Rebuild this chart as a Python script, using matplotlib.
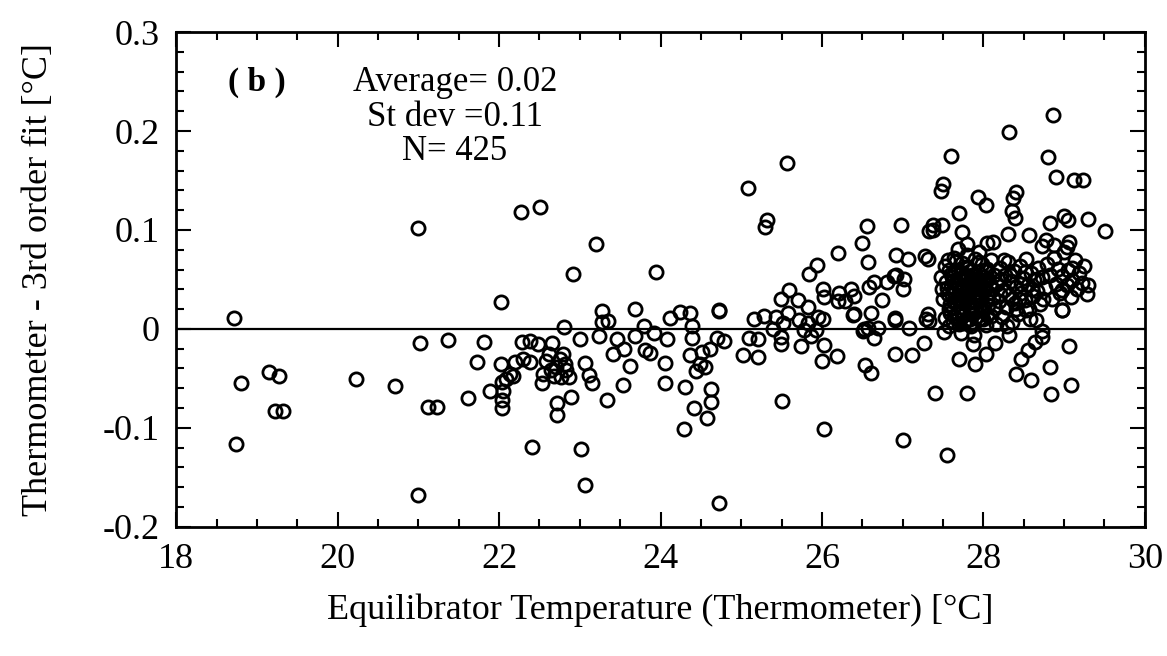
import numpy as np
import matplotlib
matplotlib.use("Agg")
import matplotlib.pyplot as plt
from matplotlib.ticker import MultipleLocator, FuncFormatter

plt.rcParams.update({
    "font.family": "Liberation Serif",
    "font.size": 26,
    "axes.unicode_minus": False,
})

# === Datos (temperatura, residuo) ===
left_t = [18.72, 18.80, 18.74, 19.15, 19.27, 19.22, 19.32, 20.23, 20.71, 21.02,
          21.00, 21.12, 21.23, 21.00, 21.37, 21.61, 21.73, 21.81, 21.89]
left_r = [0.011, -0.055, -0.116, -0.044, -0.048, -0.083, -0.083, -0.051, -0.058, -0.014,
          0.102, -0.079, -0.079, -0.168, -0.011, -0.070, -0.033, -0.013, -0.063]

mid_t = [22.02, 22.02, 22.41, 22.27, 22.51, 22.04, 22.04, 22.03, 22.08, 22.14,
         22.20, 22.30, 22.28, 22.38, 22.48, 22.38, 22.55, 22.53, 22.58, 22.66,
         22.70, 22.79, 22.80, 22.83, 22.86, 22.77, 22.64, 22.72, 22.72, 22.89,
         23.00, 23.06, 23.12, 23.24, 23.28, 23.27, 23.35, 23.34, 23.46, 23.41,
         23.55, 23.62, 23.54, 23.69, 23.68, 23.79, 23.81, 23.87, 23.92, 24.08,
         24.05, 24.05, 24.12, 24.24, 24.37, 24.39, 24.39, 24.36, 24.52, 24.49,
         24.44, 24.30, 24.42, 24.58, 24.29, 24.63, 24.63, 22.91, 23.95, 23.20,
         23.01, 23.07, 24.73, 24.61, 24.70, 24.79, 24.55, 24.73, 24.73, 22.62,
         22.68, 22.75, 22.82, 22.05, 22.17, 23.15]
mid_r = [-0.035, 0.027, -0.119, 0.118, 0.123, -0.080, -0.072, -0.054, -0.051, -0.046,
         -0.033, -0.030, -0.013, -0.012, -0.015, -0.033, -0.046, -0.055, -0.032, -0.014,
         -0.039, -0.025, 0.002, -0.042, -0.049, -0.049, -0.042, -0.075, -0.087, -0.069,
         -0.010, -0.034, -0.047, -0.007, 0.018, 0.007, 0.008, -0.072, -0.010, -0.025,
         -0.020, -0.037, -0.057, 0.020, -0.007, 0.003, -0.021, -0.024, -0.004, -0.010,
         -0.034, -0.055, 0.011, 0.017, 0.016, 0.003, -0.009, -0.026, -0.023, -0.035,
         -0.043, -0.059, -0.080, -0.090, -0.101, -0.061, -0.074, 0.056, 0.058, 0.086,
         -0.121, -0.158, -0.176, -0.020, -0.009, -0.012, -0.038, 0.019, 0.018, -0.025,
         -0.048, -0.030, -0.035, -0.063, -0.048, -0.055]

mid2_t = [25.29, 25.32, 25.08, 25.57, 26.56, 26.98, 26.50, 26.20, 26.57, 26.92,
          27.07, 25.94, 25.84, 26.92, 27.02, 27.00, 26.65, 26.80, 26.58, 26.01,
          26.03, 26.21, 26.36, 26.40, 26.28, 26.20, 26.75, 25.59, 25.49, 25.70,
          25.83, 25.43, 25.58, 25.52, 25.71, 25.83, 25.95, 26.01, 26.39, 26.61,
          26.90, 25.28, 25.16, 25.10, 25.21, 25.39, 25.49, 25.49, 25.78, 25.74,
          25.87, 25.93, 26.03, 26.57, 26.70, 26.51, 26.64, 27.08, 25.02, 25.21,
          26.00, 26.19, 26.91, 27.12, 26.53, 26.61, 25.50, 26.03, 27.01, 26.89,
          26.40, 26.52, 26.90]
mid2_r = [0.103, 0.110, 0.142, 0.168, 0.104, 0.105, 0.087, 0.077, 0.068, 0.075,
          0.071, 0.065, 0.056, 0.055, 0.050, 0.040, 0.047, 0.047, 0.042, 0.040,
          0.032, 0.036, 0.040, 0.033, 0.028, 0.028, 0.029, 0.039, 0.030, 0.029,
          0.022, 0.012, 0.016, 0.006, 0.009, 0.006, 0.012, 0.010, 0.014, 0.016,
          0.011, 0.013, 0.010, -0.009, -0.010, 0.000, -0.008, -0.015, -0.001, -0.017,
          -0.007, -0.001, -0.016, 0.001, 0.001, -0.002, -0.009, 0.001, -0.026, -0.028,
          -0.032, -0.027, -0.025, -0.026, -0.036, -0.045, -0.073, -0.101, -0.112, 0.053,
          0.015, 0.000, 0.009]

right_t = [27.33, 27.31, 27.29, 27.27, 28.86, 28.32, 27.60, 28.80, 28.90, 29.12,
           29.24, 27.50, 27.47, 27.93, 28.03, 28.40, 28.37, 28.35, 28.39, 27.70,
           27.38, 27.49, 27.37, 27.73, 28.30, 28.57, 28.82, 29.00, 29.05, 29.30,
           29.51, 28.78, 28.72, 29.04, 28.05, 28.12, 27.80, 27.69, 27.28, 27.40,
           27.80, 27.55, 27.70, 27.90, 28.03, 28.14, 28.16, 28.32, 28.40, 28.59,
           28.47, 28.55, 28.64, 28.72, 28.65, 28.53, 28.82, 28.84, 29.06, 29.09,
           28.97, 28.98, 29.30, 29.10, 28.98, 27.87, 28.73, 27.31, 27.33]
right_r = [0.099, 0.071, 0.010, -0.014, 0.216, 0.199, 0.175, 0.174, 0.154, 0.151,
           0.151, 0.146, 0.139, 0.133, 0.125, 0.138, 0.132, 0.119, 0.112, 0.117,
           0.105, 0.105, 0.100, 0.098, 0.096, 0.095, 0.107, 0.114, 0.110, 0.111,
           0.099, 0.090, 0.084, 0.083, 0.087, 0.088, 0.086, 0.081, 0.074, -0.065,
           -0.065, -0.127, -0.030, -0.035, -0.025, -0.014, 0.005, -0.006, -0.046, -0.052,
           -0.030, -0.021, -0.013, -0.008, 0.009, 0.019, -0.038, -0.066, -0.017, -0.057,
           0.019, 0.019, 0.044, 0.062, 0.039, -0.015, -0.002, 0.015, 0.008]

# nube densa 27.4 - 29.3 °C
dense_t = [27.48, 27.50, 27.52, 27.53, 27.55, 27.57, 27.58, 27.60, 27.61, 27.63,
           27.64, 27.66, 27.67, 27.69, 27.70, 27.71, 27.73, 27.74, 27.76, 27.77,
           27.78, 27.80, 27.81, 27.82, 27.84, 27.85, 27.86, 27.87, 27.89, 27.90,
           27.91, 27.93, 27.94, 27.95, 27.97, 27.98, 27.99, 28.01, 28.02, 28.03,
           28.05, 28.06, 28.08, 28.09, 28.10, 28.12, 28.13, 28.15, 27.62, 27.68,
           27.75, 27.79, 27.83, 27.88, 27.92, 27.96, 28.00, 28.04, 28.07, 27.72,
           27.65, 27.59, 27.54, 27.56, 27.80, 27.95, 27.72, 27.88, 28.00, 27.51,
           27.49, 27.57, 27.62, 27.66, 27.70, 27.74, 27.78, 27.83, 27.86, 27.90,
           27.94, 27.97, 28.02, 28.06, 28.11, 27.60, 27.68, 27.76, 27.84, 27.92,
           28.17, 28.19, 28.21, 28.23, 28.25, 28.27, 28.28, 28.30, 28.32, 28.34,
           28.36, 28.38, 28.39, 28.41, 28.43, 28.45, 28.47, 28.49, 28.51, 28.53,
           28.55, 28.57, 28.59, 28.61, 28.63, 28.66, 28.68, 28.70, 28.73, 28.76,
           28.79, 28.22, 28.29, 28.44, 28.58, 28.20, 28.26, 28.33, 28.40, 28.46,
           28.52, 28.60, 28.67, 28.74, 28.35,
           28.82, 28.85, 28.87, 28.90, 28.92, 28.95, 28.98, 29.00, 29.03, 29.05,
           29.08, 29.10, 29.13, 29.16, 29.19, 29.22, 29.25, 29.28, 28.88, 29.06]
dense_r = [0.052, 0.030, 0.011, 0.064, 0.041, 0.020, 0.003, 0.056, 0.034, 0.072,
           0.013, 0.046, 0.025, 0.060, 0.005, 0.038, 0.018, 0.067, 0.050, 0.029,
           0.009, 0.044, 0.062, 0.022, 0.036, 0.003, 0.055, 0.015, 0.071, 0.041,
           0.027, 0.058, 0.010, 0.047, 0.033, 0.066, 0.019, 0.052, 0.039, 0.004,
           0.061, 0.024, 0.045, 0.013, 0.070, 0.031, 0.055, 0.021, 0.048, 0.031,
           0.040, 0.053, 0.048, 0.032, 0.050, 0.024, 0.043, 0.029, 0.036, 0.057,
           0.059, 0.025, 0.047, 0.070, 0.075, 0.078, -0.004, -0.006, 0.010, -0.003,
           0.040, 0.060, 0.008, 0.069, 0.050, 0.028, 0.063, 0.010, 0.043, 0.020,
           0.068, 0.045, 0.060, 0.050, 0.040, 0.043, 0.015, 0.006, 0.059, 0.037,
           0.045, 0.028, 0.062, 0.012, 0.039, 0.054, 0.022, 0.068, 0.034, 0.048,
           0.007, 0.059, 0.026, 0.042, 0.015, 0.064, 0.036, 0.051, 0.029, 0.071,
           0.044, 0.020, 0.057, 0.033, 0.049, 0.038, 0.062, 0.025, 0.052, 0.041,
           0.066, 0.050, 0.003, 0.030, 0.010, 0.035, 0.070, 0.055, 0.020, 0.045,
           0.058, 0.040, 0.050, 0.030, 0.030,
           0.054, 0.030, 0.072, 0.045, 0.061, 0.036, 0.053, 0.078, 0.044, 0.060,
           0.032, 0.049, 0.070, 0.040, 0.057, 0.046, 0.064, 0.035, 0.085, 0.088]

# núcleo más denso de la nube (27.55 - 28.1 °C)
core_t = [27.56, 27.59, 27.61, 27.63, 27.65, 27.67, 27.69, 27.71, 27.73, 27.75,
          27.77, 27.79, 27.81, 27.83, 27.85, 27.87, 27.89, 27.91, 27.93, 27.95,
          27.97, 27.99, 28.01, 28.03, 28.05]
core_r = [0.035, 0.016, 0.052, 0.027, 0.040, 0.010, 0.046, 0.022, 0.033, 0.014,
          0.055, 0.037, 0.026, 0.005, 0.044, 0.023, 0.050, 0.012, 0.034, 0.028,
          0.011, 0.041, 0.022, 0.049, 0.014]

# ajuste (recta horizontal en cero)
fit_t = [18.0, 30.0]
fit_r = [0.0, 0.0]

temp = left_t + mid_t + mid2_t + right_t + dense_t + core_t
resid = left_r + mid_r + mid2_r + right_r + dense_r + core_r

fig, ax = plt.subplots(figsize=(11.67, 6.56), dpi=100)
fig.subplots_adjust(left=0.151, right=0.981, top=0.951, bottom=0.197)

ax.plot(temp, resid, 'o', mfc='none', mec='black', ms=9.5, mew=2.0)
ax.plot(fit_t, fit_r, color='black', lw=1.6)

ax.set_xlim(18, 30)
ax.set_ylim(-0.2, 0.3)
ax.xaxis.set_major_locator(MultipleLocator(2))
ax.xaxis.set_minor_locator(MultipleLocator(0.5))
ax.yaxis.set_major_locator(MultipleLocator(0.1))
ax.yaxis.set_minor_locator(MultipleLocator(0.02))
ax.yaxis.set_major_formatter(FuncFormatter(lambda v, p: '0' if abs(v) < 1e-9 else f'{v:.1f}'))

ax.tick_params(which='both', direction='in', top=True, right=True, width=1.5)
ax.tick_params(which='major', length=11, pad=12)
ax.tick_params(which='minor', length=5.5)
for s in ax.spines.values():
    s.set_linewidth(2)

ax.set_xlabel("Equilibrator Temperature (Thermometer) [°C]", labelpad=12)
ax.set_ylabel("Thermometer - 3rd order fit [°C]", labelpad=34)

ax.text(19.0, 0.249, "( b )", ha='center', va='center', fontsize=24, fontweight='bold')
ax.text(21.45, 0.214, "Average= 0.02\nSt dev =0.11\nN= 425", ha='center', va='center',
        fontsize=25, linespacing=1.05)

plt.savefig("out.png", dpi=100)
